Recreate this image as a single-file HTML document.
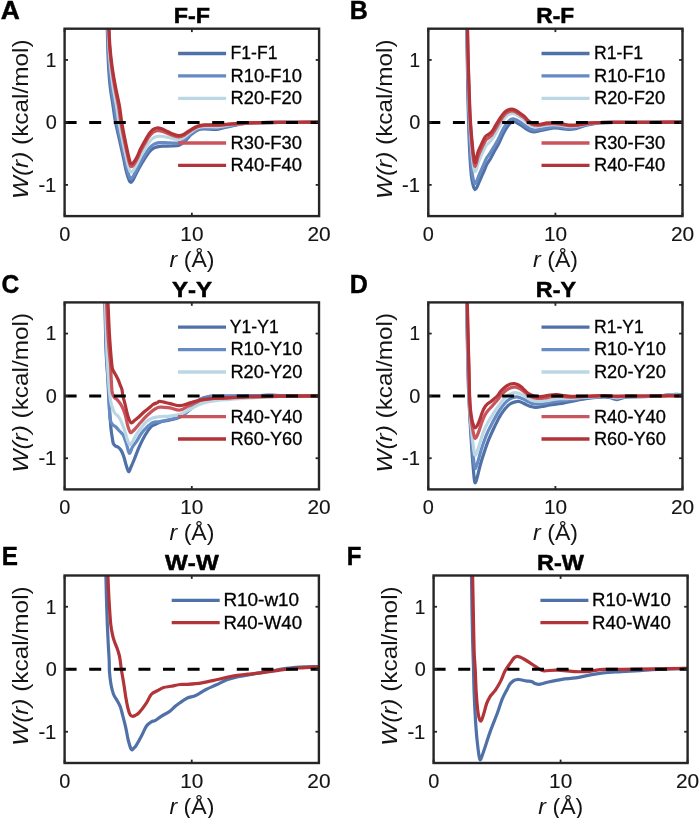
<!DOCTYPE html>
<html><head><meta charset="utf-8"><title>PMF panels</title>
<style>html,body{margin:0;padding:0;background:#fff;}body{width:700px;height:818px;position:relative;overflow:hidden;font-family:"Liberation Sans", sans-serif;}</style>
</head><body>
<svg width="700" height="818" viewBox="0 0 700 818" style="position:absolute;left:0;top:0;font-family:'Liberation Sans', sans-serif;will-change:transform;font-kerning:none">
<rect width="700" height="818" fill="#ffffff"/>
<defs>
<clipPath id="clipA"><rect x="64.60" y="28.70" width="254.50" height="187.40"/></clipPath>
<clipPath id="clipB"><rect x="428.30" y="28.70" width="254.20" height="187.40"/></clipPath>
<clipPath id="clipC"><rect x="64.60" y="302.40" width="254.40" height="187.00"/></clipPath>
<clipPath id="clipD"><rect x="428.30" y="302.40" width="254.20" height="187.00"/></clipPath>
<clipPath id="clipE"><rect x="64.60" y="575.50" width="254.30" height="187.50"/></clipPath>
<clipPath id="clipF"><rect x="433.60" y="575.50" width="254.00" height="187.50"/></clipPath>
</defs>
<path d="M107.30,28.70 C107.38,31.85 107.58,41.20 107.80,47.60 C108.02,54.00 108.20,60.58 108.60,67.10 C109.00,73.62 109.45,80.17 110.20,86.70 C110.95,93.23 112.22,100.42 113.10,106.30 C113.98,112.18 114.43,116.38 115.50,122.00 C116.57,127.62 118.17,134.00 119.50,140.00 C120.83,146.00 122.33,152.67 123.50,158.00 C124.67,163.33 125.42,168.03 126.50,172.00 C127.58,175.97 128.92,180.47 130.00,181.80 C131.08,183.13 131.83,181.63 133.00,180.00 C134.17,178.37 135.50,174.83 137.00,172.00 C138.50,169.17 140.33,165.83 142.00,163.00 C143.67,160.17 145.50,157.17 147.00,155.00 C148.50,152.83 149.67,151.25 151.00,150.00 C152.33,148.75 153.50,148.12 155.00,147.50 C156.50,146.88 158.17,146.52 160.00,146.30 C161.83,146.08 164.00,146.25 166.00,146.20 C168.00,146.15 169.90,146.12 172.00,146.00 C174.10,145.88 176.93,145.92 178.60,145.50 C180.27,145.08 180.77,144.42 182.00,143.50 C183.23,142.58 184.43,141.52 186.00,140.00 C187.57,138.48 189.43,136.07 191.40,134.40 C193.37,132.73 195.65,130.90 197.80,130.00 C199.95,129.10 201.10,129.12 204.30,129.00 C207.50,128.88 213.38,129.60 217.00,129.30 C220.62,129.00 221.67,128.13 226.00,127.20 C230.33,126.27 237.33,124.47 243.00,123.70 C248.67,122.93 253.83,122.83 260.00,122.60 C266.17,122.37 270.17,122.37 280.00,122.30 C289.83,122.23 312.50,122.22 319.00,122.20" fill="none" stroke="#5070a8" stroke-width="3.2" stroke-linejoin="round" stroke-linecap="butt" clip-path="url(#clipA)"/>
<path d="M107.64,28.70 C107.74,31.85 107.96,41.20 108.24,47.60 C108.52,54.00 108.82,60.58 109.32,67.10 C109.82,73.62 110.42,80.17 111.26,86.70 C112.10,93.23 113.47,100.42 114.38,106.30 C115.29,112.18 115.69,116.35 116.74,122.00 C117.79,127.65 119.37,134.30 120.66,140.20 C121.95,146.10 123.38,152.47 124.46,157.40 C125.54,162.33 126.20,166.34 127.16,169.80 C128.12,173.26 129.21,177.06 130.20,178.18 C131.19,179.30 131.97,178.03 133.10,176.50 C134.23,174.97 135.57,171.72 137.00,169.00 C138.43,166.28 140.12,162.98 141.70,160.20 C143.28,157.42 145.02,154.53 146.50,152.30 C147.98,150.07 149.25,148.20 150.60,146.80 C151.95,145.40 153.12,144.59 154.58,143.90 C156.04,143.21 157.60,142.85 159.34,142.64 C161.08,142.43 163.10,142.61 165.00,142.66 C166.90,142.71 168.69,142.84 170.74,142.92 C172.79,143.00 175.54,143.32 177.30,143.16 C179.06,143.00 179.95,142.65 181.32,141.94 C182.69,141.23 183.86,140.31 185.54,138.88 C187.22,137.45 189.36,134.99 191.40,133.38 C193.44,131.77 195.65,130.09 197.80,129.22 C199.95,128.35 201.10,128.30 204.30,128.16 C207.50,128.02 213.38,128.66 217.00,128.40 C220.62,128.14 221.67,127.42 226.00,126.62 C230.33,125.82 237.33,124.27 243.00,123.60 C248.67,122.93 253.83,122.82 260.00,122.60 C266.17,122.38 270.17,122.37 280.00,122.30 C289.83,122.23 312.50,122.22 319.00,122.20" fill="none" stroke="#668ac4" stroke-width="3.2" stroke-linejoin="round" stroke-linecap="butt" clip-path="url(#clipA)"/>
<path d="M108.23,28.70 C108.36,31.85 108.62,41.20 109.01,47.60 C109.40,54.00 109.90,60.58 110.58,67.10 C111.26,73.62 112.11,80.17 113.11,86.70 C114.12,93.23 115.65,100.42 116.62,106.30 C117.59,112.18 117.90,116.29 118.91,122.00 C119.92,127.71 121.48,134.83 122.69,140.55 C123.89,146.28 125.20,152.12 126.14,156.35 C127.08,160.58 127.58,163.37 128.31,165.95 C129.05,168.53 129.72,171.11 130.55,171.84 C131.38,172.58 132.20,171.72 133.28,170.38 C134.35,169.03 135.68,166.26 137.00,163.75 C138.32,161.24 139.74,158.00 141.18,155.30 C142.61,152.60 144.17,149.92 145.62,147.57 C147.08,145.22 148.53,142.86 149.90,141.20 C151.27,139.54 152.46,138.43 153.84,137.60 C155.23,136.77 156.62,136.42 158.19,136.24 C159.75,136.05 161.53,136.25 163.25,136.47 C164.97,136.68 166.57,137.10 168.53,137.53 C170.50,137.96 173.09,138.78 175.03,139.06 C176.96,139.34 178.51,139.57 180.13,139.21 C181.75,138.85 182.86,138.19 184.73,136.92 C186.61,135.65 189.22,133.11 191.40,131.59 C193.58,130.08 195.65,128.67 197.80,127.85 C199.95,127.04 201.10,126.86 204.30,126.69 C207.50,126.52 213.38,127.01 217.00,126.83 C220.62,126.64 221.67,126.17 226.00,125.61 C230.33,125.04 237.33,123.93 243.00,123.42 C248.67,122.92 253.83,122.79 260.00,122.60 C266.17,122.41 270.17,122.37 280.00,122.30 C289.83,122.23 312.50,122.22 319.00,122.20" fill="none" stroke="#bbd7e4" stroke-width="3.2" stroke-linejoin="round" stroke-linecap="butt" clip-path="url(#clipA)"/>
<path d="M108.75,28.70 C108.90,31.85 109.18,41.20 109.67,47.60 C110.16,54.00 110.82,60.58 111.66,67.10 C112.50,73.62 113.56,80.17 114.70,86.70 C115.85,93.23 117.53,100.42 118.54,106.30 C119.55,112.18 119.79,116.24 120.77,122.00 C121.75,127.76 123.29,135.28 124.43,140.85 C125.56,146.42 126.77,151.82 127.58,155.45 C128.39,159.08 128.76,160.82 129.31,162.65 C129.85,164.48 130.16,166.00 130.85,166.41 C131.54,166.83 132.40,166.32 133.43,165.12 C134.45,163.93 135.78,161.59 137.00,159.25 C138.22,156.91 139.41,153.72 140.72,151.10 C142.04,148.48 143.45,145.97 144.88,143.53 C146.30,141.08 147.91,138.29 149.30,136.40 C150.69,134.51 151.90,133.14 153.22,132.20 C154.53,131.26 155.77,130.92 157.19,130.75 C158.62,130.57 160.18,130.79 161.75,131.16 C163.32,131.52 164.76,132.18 166.64,132.91 C168.53,133.64 171.00,134.90 173.07,135.56 C175.15,136.22 177.28,136.92 179.11,136.87 C180.94,136.82 182.00,136.37 184.04,135.24 C186.09,134.11 189.11,131.49 191.40,130.06 C193.69,128.64 195.65,127.46 197.80,126.69 C199.95,125.91 201.10,125.63 204.30,125.43 C207.50,125.23 213.38,125.59 217.00,125.47 C220.62,125.36 221.67,125.10 226.00,124.73 C230.33,124.37 237.33,123.63 243.00,123.28 C248.67,122.92 253.83,122.76 260.00,122.60 C266.17,122.44 270.17,122.37 280.00,122.30 C289.83,122.23 312.50,122.22 319.00,122.20" fill="none" stroke="#c9545c" stroke-width="3.2" stroke-linejoin="round" stroke-linecap="butt" clip-path="url(#clipA)"/>
<path d="M109.00,28.70 C109.17,31.85 109.47,41.20 110.00,47.60 C110.53,54.00 111.28,60.58 112.20,67.10 C113.12,73.62 114.28,80.17 115.50,86.70 C116.72,93.23 118.47,100.42 119.50,106.30 C120.53,112.18 120.73,116.22 121.70,122.00 C122.67,127.78 124.20,135.50 125.30,141.00 C126.40,146.50 127.55,151.67 128.30,155.00 C129.05,158.33 129.35,159.55 129.80,161.00 C130.25,162.45 130.38,163.45 131.00,163.70 C131.62,163.95 132.50,163.62 133.50,162.50 C134.50,161.38 135.83,159.25 137.00,157.00 C138.17,154.75 139.25,151.58 140.50,149.00 C141.75,146.42 143.08,144.00 144.50,141.50 C145.92,139.00 147.60,136.00 149.00,134.00 C150.40,132.00 151.62,130.50 152.90,129.50 C154.18,128.50 155.35,128.17 156.70,128.00 C158.05,127.83 159.50,128.07 161.00,128.50 C162.50,128.93 163.85,129.72 165.70,130.60 C167.55,131.48 169.95,132.95 172.10,133.80 C174.25,134.65 176.67,135.60 178.60,135.70 C180.53,135.80 181.57,135.47 183.70,134.40 C185.83,133.33 189.05,130.68 191.40,129.30 C193.75,127.92 195.65,126.85 197.80,126.10 C199.95,125.35 201.10,125.02 204.30,124.80 C207.50,124.58 213.38,124.88 217.00,124.80 C220.62,124.72 221.67,124.57 226.00,124.30 C230.33,124.03 237.33,123.48 243.00,123.20 C248.67,122.92 253.83,122.75 260.00,122.60 C266.17,122.45 270.17,122.37 280.00,122.30 C289.83,122.23 312.50,122.22 319.00,122.20" fill="none" stroke="#b23438" stroke-width="3.2" stroke-linejoin="round" stroke-linecap="butt" clip-path="url(#clipA)"/>
<line x1="64.60" y1="122.40" x2="319.10" y2="122.40" stroke="#000" stroke-width="3" stroke-dasharray="12 12.6"/>
<line x1="178.10" y1="53.50" x2="226.10" y2="53.50" stroke="#5070a8" stroke-width="3.3"/>
<text transform="translate(230.61,59.30) scale(0.9446,1)" font-size="18.6" fill="#000" stroke="#000" stroke-width="0.3">F1-F1</text>
<line x1="178.10" y1="75.90" x2="226.10" y2="75.90" stroke="#668ac4" stroke-width="3.3"/>
<text transform="translate(230.55,81.70) scale(0.9858,1)" font-size="18.6" fill="#000" stroke="#000" stroke-width="0.3">R10-F10</text>
<line x1="178.10" y1="98.30" x2="226.10" y2="98.30" stroke="#bbd7e4" stroke-width="3.3"/>
<text transform="translate(230.55,104.10) scale(0.9858,1)" font-size="18.6" fill="#000" stroke="#000" stroke-width="0.3">R20-F20</text>
<line x1="178.10" y1="143.00" x2="226.10" y2="143.00" stroke="#c9545c" stroke-width="3.3"/>
<text transform="translate(230.55,148.80) scale(0.9858,1)" font-size="18.6" fill="#000" stroke="#000" stroke-width="0.3">R30-F30</text>
<line x1="178.10" y1="165.30" x2="226.10" y2="165.30" stroke="#b23438" stroke-width="3.3"/>
<text transform="translate(230.55,171.10) scale(0.9858,1)" font-size="18.6" fill="#000" stroke="#000" stroke-width="0.3">R40-F40</text>
<rect x="64.60" y="28.70" width="254.50" height="187.40" fill="none" stroke="#262626" stroke-width="2.4"/>
<line x1="64.60" y1="216.10" x2="64.60" y2="212.70" stroke="#262626" stroke-width="1.8"/>
<line x1="64.60" y1="28.70" x2="64.60" y2="32.10" stroke="#262626" stroke-width="1.8"/>
<text transform="translate(59.14,241.10) scale(1.0000,1)" font-size="19.9" fill="#141414" stroke="#141414" stroke-width="0.15">0</text>
<line x1="191.85" y1="216.10" x2="191.85" y2="212.70" stroke="#262626" stroke-width="1.8"/>
<line x1="191.85" y1="28.70" x2="191.85" y2="32.10" stroke="#262626" stroke-width="1.8"/>
<text transform="translate(180.35,241.10) scale(1.0443,1)" font-size="19.9" fill="#141414" stroke="#141414" stroke-width="0.15">10</text>
<line x1="319.10" y1="216.10" x2="319.10" y2="212.70" stroke="#262626" stroke-width="1.8"/>
<line x1="319.10" y1="28.70" x2="319.10" y2="32.10" stroke="#262626" stroke-width="1.8"/>
<text transform="translate(307.50,241.10) scale(1.0494,1)" font-size="19.9" fill="#141414" stroke="#141414" stroke-width="0.15">20</text>
<line x1="64.60" y1="184.87" x2="68.00" y2="184.87" stroke="#262626" stroke-width="1.8"/>
<line x1="319.10" y1="184.87" x2="315.70" y2="184.87" stroke="#262626" stroke-width="1.8"/>
<text transform="translate(38.39,191.67) scale(1.0157,1)" font-size="19.9" fill="#141414" stroke="#141414" stroke-width="0.15">-1</text>
<line x1="64.60" y1="122.40" x2="68.00" y2="122.40" stroke="#262626" stroke-width="1.8"/>
<line x1="319.10" y1="122.40" x2="315.70" y2="122.40" stroke="#262626" stroke-width="1.8"/>
<text transform="translate(45.67,129.20) scale(1.0000,1)" font-size="19.9" fill="#141414" stroke="#141414" stroke-width="0.15">0</text>
<line x1="64.60" y1="59.93" x2="68.00" y2="59.93" stroke="#262626" stroke-width="1.8"/>
<line x1="319.10" y1="59.93" x2="315.70" y2="59.93" stroke="#262626" stroke-width="1.8"/>
<text transform="translate(45.74,66.73) scale(0.9565,1)" font-size="19.9" fill="#141414" stroke="#141414" stroke-width="0.15">1</text>
<text transform="translate(169.55,267.10) scale(1.0617,1)" font-size="21.8" fill="#141414" stroke="#141414" stroke-width="0"><tspan font-style="italic">r</tspan> (Å)</text>
<text transform="translate(28.00,119.20) rotate(-90) translate(-79.77,0) scale(1.1167,1)" font-size="21.8" fill="#141414" ><tspan font-style="italic">W(r)</tspan> (kcal/mol)</text>
<text transform="translate(173.65,23.00) scale(1.0504,1)" font-size="22.2" font-weight="bold" fill="#000" stroke="#000" stroke-width="0.5">F-F</text>
<text transform="translate(0.77,19.00) scale(1.0,1)" font-size="26.4" font-weight="bold" fill="#000" stroke="#000" stroke-width="0.45">A</text>
<path d="M466.80,28.70 C466.88,33.92 467.10,48.12 467.30,60.00 C467.50,71.88 467.78,89.67 468.00,100.00 C468.22,110.33 468.33,113.67 468.60,122.00 C468.87,130.33 469.15,141.17 469.60,150.00 C470.05,158.83 470.68,169.00 471.30,175.00 C471.92,181.00 472.72,183.57 473.30,186.00 C473.88,188.43 474.22,189.35 474.80,189.60 C475.38,189.85 475.93,189.10 476.80,187.50 C477.67,185.90 478.80,182.75 480.00,180.00 C481.20,177.25 482.83,173.67 484.00,171.00 C485.17,168.33 485.93,166.05 487.00,164.00 C488.07,161.95 489.15,160.87 490.40,158.70 C491.65,156.53 493.15,153.45 494.50,151.00 C495.85,148.55 496.98,147.00 498.50,144.00 C500.02,141.00 502.02,136.05 503.60,133.00 C505.18,129.95 506.65,127.53 508.00,125.70 C509.35,123.87 510.70,122.70 511.70,122.00 C512.70,121.30 513.12,121.37 514.00,121.50 C514.88,121.63 515.92,122.23 517.00,122.80 C518.08,123.37 519.05,123.93 520.50,124.90 C521.95,125.87 524.12,127.58 525.70,128.60 C527.28,129.62 528.57,130.45 530.00,131.00 C531.43,131.55 532.63,131.95 534.30,131.90 C535.97,131.85 537.87,131.13 540.00,130.70 C542.13,130.27 544.72,129.77 547.10,129.30 C549.48,128.83 551.92,128.02 554.30,127.90 C556.68,127.78 559.02,128.37 561.40,128.60 C563.78,128.83 566.22,129.30 568.60,129.30 C570.98,129.30 573.47,129.07 575.70,128.60 C577.93,128.13 579.62,127.18 582.00,126.50 C584.38,125.82 587.00,125.12 590.00,124.50 C593.00,123.88 595.00,123.15 600.00,122.80 C605.00,122.45 606.25,122.50 620.00,122.40 C633.75,122.30 672.08,122.23 682.50,122.20" fill="none" stroke="#5070a8" stroke-width="3.2" stroke-linejoin="round" stroke-linecap="butt" clip-path="url(#clipB)"/>
<path d="M466.95,28.70 C467.04,33.92 467.27,48.12 467.50,60.00 C467.73,71.88 468.08,89.67 468.33,100.00 C468.58,110.33 468.69,113.72 469.02,122.00 C469.34,130.28 469.80,141.46 470.28,149.67 C470.76,157.88 471.34,166.10 471.89,171.26 C472.44,176.42 473.09,178.55 473.59,180.61 C474.09,182.67 474.38,183.50 474.89,183.64 C475.40,183.78 475.87,183.08 476.65,181.45 C477.42,179.82 478.42,176.57 479.56,173.84 C480.70,171.11 482.29,167.70 483.47,165.06 C484.65,162.42 485.55,159.94 486.63,157.99 C487.70,156.05 488.70,155.26 489.92,153.38 C491.13,151.50 492.61,148.94 493.93,146.71 C495.25,144.48 496.36,142.80 497.84,139.97 C499.32,137.15 501.23,132.63 502.79,129.77 C504.34,126.90 505.84,124.53 507.19,122.80 C508.54,121.06 509.83,120.03 510.89,119.36 C511.94,118.69 512.55,118.69 513.49,118.79 C514.44,118.90 515.45,119.42 516.56,119.98 C517.67,120.55 518.71,121.19 520.17,122.17 C521.63,123.15 523.78,124.76 525.35,125.85 C526.91,126.94 528.12,127.99 529.56,128.69 C531.00,129.39 532.25,129.97 533.99,130.07 C535.73,130.17 537.82,129.66 540.00,129.29 C542.18,128.93 544.72,128.31 547.10,127.89 C549.48,127.48 551.92,126.87 554.30,126.80 C556.68,126.73 559.02,127.24 561.40,127.50 C563.78,127.76 566.22,128.30 568.60,128.35 C570.98,128.41 573.43,128.21 575.70,127.81 C577.97,127.41 579.84,126.56 582.22,125.95 C584.60,125.34 587.04,124.68 590.00,124.15 C592.96,123.61 595.00,123.03 600.00,122.73 C605.00,122.44 606.25,122.49 620.00,122.40 C633.75,122.31 672.08,122.23 682.50,122.20" fill="none" stroke="#668ac4" stroke-width="3.2" stroke-linejoin="round" stroke-linecap="butt" clip-path="url(#clipB)"/>
<path d="M467.26,28.70 C467.37,33.92 467.61,48.12 467.89,60.00 C468.18,71.88 468.66,89.67 468.99,100.00 C469.32,110.33 469.41,113.83 469.85,122.00 C470.30,130.17 471.11,142.05 471.65,149.01 C472.18,155.97 472.66,160.31 473.08,163.78 C473.50,167.25 473.83,168.51 474.16,169.83 C474.49,171.15 474.70,171.79 475.06,171.71 C475.43,171.63 475.74,171.05 476.34,169.35 C476.94,167.65 477.67,164.22 478.68,161.52 C479.69,158.83 481.22,155.77 482.42,153.18 C483.62,150.59 484.79,147.72 485.88,145.98 C486.97,144.24 487.80,144.04 488.95,142.73 C490.10,141.42 491.52,139.93 492.78,138.13 C494.05,136.33 495.12,134.39 496.52,131.92 C497.92,129.45 499.65,125.79 501.16,123.30 C502.66,120.81 504.21,118.52 505.56,116.99 C506.91,115.45 508.10,114.68 509.26,114.08 C510.41,113.48 511.41,113.34 512.48,113.38 C513.55,113.43 514.51,113.80 515.68,114.35 C516.85,114.91 518.02,115.72 519.51,116.72 C521.00,117.72 523.12,119.12 524.64,120.35 C526.17,121.58 527.22,123.06 528.68,124.07 C530.14,125.08 531.49,126.02 533.38,126.42 C535.26,126.82 537.71,126.70 540.00,126.48 C542.29,126.25 544.72,125.39 547.10,125.08 C549.48,124.76 551.92,124.56 554.30,124.60 C556.68,124.64 559.02,124.99 561.40,125.30 C563.78,125.61 566.22,126.31 568.60,126.46 C570.98,126.62 573.36,126.49 575.70,126.22 C578.04,125.96 580.28,125.31 582.66,124.85 C585.04,124.39 587.11,123.82 590.00,123.44 C592.89,123.07 595.00,122.78 600.00,122.60 C605.00,122.43 606.25,122.47 620.00,122.40 C633.75,122.33 672.08,122.23 682.50,122.20" fill="none" stroke="#bbd7e4" stroke-width="3.2" stroke-linejoin="round" stroke-linecap="butt" clip-path="url(#clipB)"/>
<path d="M467.40,28.70 C467.51,33.92 467.76,48.12 468.07,60.00 C468.39,71.88 468.93,89.67 469.29,100.00 C469.65,110.33 469.74,113.88 470.23,122.00 C470.73,130.12 471.70,142.31 472.27,148.71 C472.83,155.11 473.26,157.68 473.62,160.38 C473.98,163.08 474.16,163.94 474.42,164.93 C474.67,165.92 474.85,166.47 475.14,166.29 C475.44,166.11 475.68,165.58 476.20,163.85 C476.72,162.12 477.32,158.60 478.28,155.92 C479.24,153.24 480.73,150.35 481.94,147.78 C483.15,145.21 484.44,142.17 485.54,140.52 C486.63,138.87 487.39,138.94 488.51,137.89 C489.63,136.84 491.03,135.83 492.26,134.23 C493.50,132.63 494.56,130.57 495.92,128.26 C497.28,125.95 498.94,122.68 500.42,120.36 C501.90,118.04 503.47,115.79 504.82,114.35 C506.17,112.90 507.32,112.25 508.52,111.68 C509.72,111.11 510.89,110.90 512.02,110.92 C513.15,110.94 514.08,111.24 515.28,111.79 C516.48,112.34 517.70,113.23 519.21,114.24 C520.72,115.25 522.81,116.56 524.32,117.85 C525.84,119.14 526.82,120.82 528.28,121.97 C529.74,123.12 531.14,124.22 533.10,124.76 C535.05,125.30 537.67,125.36 540.00,125.20 C542.33,125.03 544.72,124.06 547.10,123.80 C549.48,123.53 551.92,123.52 554.30,123.60 C556.68,123.68 559.02,123.97 561.40,124.30 C563.78,124.63 566.22,125.40 568.60,125.60 C570.98,125.80 573.32,125.71 575.70,125.50 C578.08,125.30 580.48,124.75 582.86,124.35 C585.24,123.95 587.14,123.43 590.00,123.12 C592.86,122.82 595.00,122.66 600.00,122.54 C605.00,122.42 606.25,122.46 620.00,122.40 C633.75,122.34 672.08,122.23 682.50,122.20" fill="none" stroke="#c9545c" stroke-width="3.2" stroke-linejoin="round" stroke-linecap="butt" clip-path="url(#clipB)"/>
<path d="M467.50,28.70 C467.62,33.92 467.87,48.12 468.20,60.00 C468.53,71.88 469.12,89.67 469.50,100.00 C469.88,110.33 469.97,113.92 470.50,122.00 C471.03,130.08 472.12,142.50 472.70,148.50 C473.28,154.50 473.68,155.83 474.00,158.00 C474.32,160.17 474.40,160.75 474.60,161.50 C474.80,162.25 474.95,162.75 475.20,162.50 C475.45,162.25 475.63,161.75 476.10,160.00 C476.57,158.25 477.08,154.67 478.00,152.00 C478.92,149.33 480.38,146.55 481.60,144.00 C482.82,141.45 484.20,138.28 485.30,136.70 C486.40,135.12 487.10,135.37 488.20,134.50 C489.30,133.63 490.68,132.97 491.90,131.50 C493.12,130.03 494.17,127.90 495.50,125.70 C496.83,123.50 498.43,120.50 499.90,118.30 C501.37,116.10 502.95,113.88 504.30,112.50 C505.65,111.12 506.77,110.55 508.00,110.00 C509.23,109.45 510.53,109.20 511.70,109.20 C512.87,109.20 513.78,109.45 515.00,110.00 C516.22,110.55 517.48,111.48 519.00,112.50 C520.52,113.52 522.60,114.77 524.10,116.10 C525.60,117.43 526.53,119.25 528.00,120.50 C529.47,121.75 530.90,122.97 532.90,123.60 C534.90,124.23 537.63,124.42 540.00,124.30 C542.37,124.18 544.72,123.13 547.10,122.90 C549.48,122.67 551.92,122.78 554.30,122.90 C556.68,123.02 559.02,123.25 561.40,123.60 C563.78,123.95 566.22,124.77 568.60,125.00 C570.98,125.23 573.30,125.17 575.70,125.00 C578.10,124.83 580.62,124.35 583.00,124.00 C585.38,123.65 587.17,123.15 590.00,122.90 C592.83,122.65 595.00,122.58 600.00,122.50 C605.00,122.42 606.25,122.45 620.00,122.40 C633.75,122.35 672.08,122.23 682.50,122.20" fill="none" stroke="#b23438" stroke-width="3.2" stroke-linejoin="round" stroke-linecap="butt" clip-path="url(#clipB)"/>
<line x1="428.30" y1="122.40" x2="682.50" y2="122.40" stroke="#000" stroke-width="3" stroke-dasharray="12 12.6"/>
<line x1="541.50" y1="53.50" x2="589.50" y2="53.50" stroke="#5070a8" stroke-width="3.3"/>
<text transform="translate(594.00,59.30) scale(0.9494,1)" font-size="18.6" fill="#000" stroke="#000" stroke-width="0.3">R1-F1</text>
<line x1="541.50" y1="75.90" x2="589.50" y2="75.90" stroke="#668ac4" stroke-width="3.3"/>
<text transform="translate(593.95,81.70) scale(0.9858,1)" font-size="18.6" fill="#000" stroke="#000" stroke-width="0.3">R10-F10</text>
<line x1="541.50" y1="98.30" x2="589.50" y2="98.30" stroke="#bbd7e4" stroke-width="3.3"/>
<text transform="translate(593.95,104.10) scale(0.9858,1)" font-size="18.6" fill="#000" stroke="#000" stroke-width="0.3">R20-F20</text>
<line x1="541.50" y1="143.00" x2="589.50" y2="143.00" stroke="#c9545c" stroke-width="3.3"/>
<text transform="translate(593.95,148.80) scale(0.9858,1)" font-size="18.6" fill="#000" stroke="#000" stroke-width="0.3">R30-F30</text>
<line x1="541.50" y1="165.30" x2="589.50" y2="165.30" stroke="#b23438" stroke-width="3.3"/>
<text transform="translate(593.95,171.10) scale(0.9858,1)" font-size="18.6" fill="#000" stroke="#000" stroke-width="0.3">R40-F40</text>
<rect x="428.30" y="28.70" width="254.20" height="187.40" fill="none" stroke="#262626" stroke-width="2.4"/>
<line x1="428.30" y1="216.10" x2="428.30" y2="212.70" stroke="#262626" stroke-width="1.8"/>
<line x1="428.30" y1="28.70" x2="428.30" y2="32.10" stroke="#262626" stroke-width="1.8"/>
<text transform="translate(422.84,241.10) scale(1.0000,1)" font-size="19.9" fill="#141414" stroke="#141414" stroke-width="0.15">0</text>
<line x1="555.40" y1="216.10" x2="555.40" y2="212.70" stroke="#262626" stroke-width="1.8"/>
<line x1="555.40" y1="28.70" x2="555.40" y2="32.10" stroke="#262626" stroke-width="1.8"/>
<text transform="translate(543.90,241.10) scale(1.0443,1)" font-size="19.9" fill="#141414" stroke="#141414" stroke-width="0.15">10</text>
<line x1="682.50" y1="216.10" x2="682.50" y2="212.70" stroke="#262626" stroke-width="1.8"/>
<line x1="682.50" y1="28.70" x2="682.50" y2="32.10" stroke="#262626" stroke-width="1.8"/>
<text transform="translate(670.90,241.10) scale(1.0494,1)" font-size="19.9" fill="#141414" stroke="#141414" stroke-width="0.15">20</text>
<line x1="428.30" y1="184.87" x2="431.70" y2="184.87" stroke="#262626" stroke-width="1.8"/>
<line x1="682.50" y1="184.87" x2="679.10" y2="184.87" stroke="#262626" stroke-width="1.8"/>
<text transform="translate(402.09,191.67) scale(1.0157,1)" font-size="19.9" fill="#141414" stroke="#141414" stroke-width="0.15">-1</text>
<line x1="428.30" y1="122.40" x2="431.70" y2="122.40" stroke="#262626" stroke-width="1.8"/>
<line x1="682.50" y1="122.40" x2="679.10" y2="122.40" stroke="#262626" stroke-width="1.8"/>
<text transform="translate(409.37,129.20) scale(1.0000,1)" font-size="19.9" fill="#141414" stroke="#141414" stroke-width="0.15">0</text>
<line x1="428.30" y1="59.93" x2="431.70" y2="59.93" stroke="#262626" stroke-width="1.8"/>
<line x1="682.50" y1="59.93" x2="679.10" y2="59.93" stroke="#262626" stroke-width="1.8"/>
<text transform="translate(409.44,66.73) scale(0.9565,1)" font-size="19.9" fill="#141414" stroke="#141414" stroke-width="0.15">1</text>
<text transform="translate(533.10,267.10) scale(1.0617,1)" font-size="21.8" fill="#141414" stroke="#141414" stroke-width="0"><tspan font-style="italic">r</tspan> (Å)</text>
<text transform="translate(391.70,119.20) rotate(-90) translate(-79.77,0) scale(1.1167,1)" font-size="21.8" fill="#141414" ><tspan font-style="italic">W(r)</tspan> (kcal/mol)</text>
<text transform="translate(536.32,23.00) scale(1.0252,1)" font-size="22.2" font-weight="bold" fill="#000" stroke="#000" stroke-width="0.5">R-F</text>
<text transform="translate(349.64,19.00) scale(0.95,1)" font-size="26.4" font-weight="bold" fill="#000" stroke="#000" stroke-width="0.45">B</text>
<path d="M104.90,302.40 C105.10,310.48 105.60,337.97 106.10,350.90 C106.60,363.83 107.48,372.65 107.90,380.00 C108.32,387.35 108.33,390.00 108.60,395.00 C108.87,400.00 109.22,405.83 109.50,410.00 C109.78,414.17 110.05,416.85 110.30,420.00 C110.55,423.15 110.67,425.90 111.00,428.90 C111.33,431.90 111.90,435.55 112.30,438.00 C112.70,440.45 112.87,442.27 113.40,443.60 C113.93,444.93 114.68,445.40 115.50,446.00 C116.32,446.60 117.47,446.62 118.30,447.20 C119.13,447.78 119.78,448.48 120.50,449.50 C121.22,450.52 121.93,451.72 122.60,453.30 C123.27,454.88 123.88,456.95 124.50,459.00 C125.12,461.05 125.60,463.48 126.30,465.60 C127.00,467.72 127.92,471.47 128.70,471.70 C129.48,471.93 130.08,469.03 131.00,467.00 C131.92,464.97 132.85,462.80 134.20,459.50 C135.55,456.20 137.27,451.28 139.10,447.20 C140.93,443.12 143.17,438.45 145.20,435.00 C147.23,431.55 149.67,428.25 151.30,426.50 C152.93,424.75 153.55,425.23 155.00,424.50 C156.45,423.77 157.50,422.85 160.00,422.10 C162.50,421.35 166.67,420.83 170.00,420.00 C173.33,419.17 176.67,418.88 180.00,417.10 C183.33,415.32 186.67,412.27 190.00,409.30 C193.33,406.33 196.67,401.45 200.00,399.30 C203.33,397.15 206.67,396.92 210.00,396.40 C213.33,395.88 211.67,396.35 220.00,396.20 C228.33,396.05 251.67,395.70 260.00,395.50 C268.33,395.30 266.67,395.00 270.00,395.00 C273.33,395.00 271.83,395.35 280.00,395.50 C288.17,395.65 312.50,395.83 319.00,395.90" fill="none" stroke="#5070a8" stroke-width="3.2" stroke-linejoin="round" stroke-linecap="butt" clip-path="url(#clipC)"/>
<path d="M105.20,302.40 C105.40,310.48 105.90,337.97 106.40,350.90 C106.90,363.83 107.78,372.65 108.20,380.00 C108.62,387.35 108.67,389.67 108.90,395.00 C109.13,400.33 109.37,407.83 109.60,412.00 C109.83,416.17 109.82,417.92 110.30,420.00 C110.78,422.08 111.57,423.33 112.50,424.50 C113.43,425.67 114.73,425.92 115.90,427.00 C117.07,428.08 118.28,429.67 119.50,431.00 C120.72,432.33 122.03,432.83 123.20,435.00 C124.37,437.17 125.48,440.95 126.50,444.00 C127.52,447.05 128.30,452.80 129.30,453.30 C130.30,453.80 131.27,449.03 132.50,447.00 C133.73,444.97 135.28,443.27 136.70,441.10 C138.12,438.93 139.58,436.03 141.00,434.00 C142.42,431.97 143.27,430.77 145.20,428.90 C147.13,427.03 150.15,424.02 152.60,422.80 C155.05,421.58 157.00,422.15 159.90,421.60 C162.80,421.05 166.65,420.35 170.00,419.50 C173.35,418.65 176.67,418.17 180.00,416.50 C183.33,414.83 186.67,412.25 190.00,409.50 C193.33,406.75 196.67,402.12 200.00,400.00 C203.33,397.88 206.67,397.40 210.00,396.80 C213.33,396.20 201.83,396.55 220.00,396.40 C238.17,396.25 302.50,395.98 319.00,395.90" fill="none" stroke="#668ac4" stroke-width="3.2" stroke-linejoin="round" stroke-linecap="butt" clip-path="url(#clipC)"/>
<path d="M105.50,302.40 C105.73,310.48 106.38,337.97 106.90,350.90 C107.42,363.83 108.12,372.65 108.60,380.00 C109.08,387.35 109.32,390.83 109.80,395.00 C110.28,399.17 110.68,402.00 111.50,405.00 C112.32,408.00 113.62,411.17 114.70,413.00 C115.78,414.83 116.95,414.67 118.00,416.00 C119.05,417.33 119.92,418.67 121.00,421.00 C122.08,423.33 123.42,426.83 124.50,430.00 C125.58,433.17 126.58,437.53 127.50,440.00 C128.42,442.47 129.08,444.63 130.00,444.80 C130.92,444.97 132.00,442.63 133.00,441.00 C134.00,439.37 134.78,437.02 136.00,435.00 C137.22,432.98 138.63,431.07 140.30,428.90 C141.97,426.73 143.95,423.83 146.00,422.00 C148.05,420.17 150.27,418.78 152.60,417.90 C154.93,417.02 157.10,417.00 160.00,416.70 C162.90,416.40 166.67,416.50 170.00,416.10 C173.33,415.70 176.67,415.43 180.00,414.30 C183.33,413.17 186.67,410.97 190.00,409.30 C193.33,407.63 196.67,405.62 200.00,404.30 C203.33,402.98 206.67,402.12 210.00,401.40 C213.33,400.68 216.67,400.35 220.00,400.00 C223.33,399.65 225.00,399.65 230.00,399.30 C235.00,398.95 241.67,398.37 250.00,397.90 C258.33,397.43 268.50,396.83 280.00,396.50 C291.50,396.17 312.50,396.00 319.00,395.90" fill="none" stroke="#bbd7e4" stroke-width="3.2" stroke-linejoin="round" stroke-linecap="butt" clip-path="url(#clipC)"/>
<path d="M106.60,302.40 C106.88,308.67 107.67,329.90 108.30,340.00 C108.93,350.10 109.90,356.33 110.40,363.00 C110.90,369.67 111.00,375.13 111.30,380.00 C111.60,384.87 111.75,389.37 112.20,392.20 C112.65,395.03 113.18,395.77 114.00,397.00 C114.82,398.23 115.97,398.37 117.10,399.60 C118.23,400.83 119.68,402.57 120.80,404.40 C121.92,406.23 122.98,408.55 123.80,410.60 C124.62,412.65 125.03,414.13 125.70,416.70 C126.37,419.27 126.98,423.35 127.80,426.00 C128.62,428.65 129.57,431.93 130.60,432.60 C131.63,433.27 132.38,431.63 134.00,430.00 C135.62,428.37 138.38,424.97 140.30,422.80 C142.22,420.63 143.67,418.83 145.50,417.00 C147.33,415.17 149.72,413.13 151.30,411.80 C152.88,410.47 153.55,409.78 155.00,409.00 C156.45,408.22 157.50,407.28 160.00,407.10 C162.50,406.92 166.67,407.42 170.00,407.90 C173.33,408.38 176.67,410.48 180.00,410.00 C183.33,409.52 186.67,406.55 190.00,405.00 C193.33,403.45 196.67,401.73 200.00,400.70 C203.33,399.67 206.67,399.20 210.00,398.80 C213.33,398.40 213.33,398.60 220.00,398.30 C226.67,398.00 240.00,397.33 250.00,397.00 C260.00,396.67 268.50,396.48 280.00,396.30 C291.50,396.12 312.50,395.97 319.00,395.90" fill="none" stroke="#c9545c" stroke-width="3.2" stroke-linejoin="round" stroke-linecap="butt" clip-path="url(#clipC)"/>
<path d="M108.00,302.40 C108.20,307.00 108.77,321.92 109.20,330.00 C109.63,338.08 110.20,345.57 110.60,350.90 C111.00,356.23 111.27,358.95 111.60,362.00 C111.93,365.05 111.88,366.98 112.60,369.20 C113.32,371.42 114.95,373.50 115.90,375.30 C116.85,377.10 117.58,378.37 118.30,380.00 C119.02,381.63 119.58,383.47 120.20,385.10 C120.82,386.73 121.55,387.97 122.00,389.80 C122.45,391.63 122.38,393.67 122.90,396.10 C123.42,398.53 124.23,400.97 125.10,404.40 C125.97,407.83 127.08,413.63 128.10,416.70 C129.12,419.77 130.13,422.17 131.20,422.80 C132.27,423.43 133.18,421.52 134.50,420.50 C135.82,419.48 137.52,418.12 139.10,416.70 C140.68,415.28 142.37,413.43 144.00,412.00 C145.63,410.57 147.40,409.35 148.90,408.10 C150.40,406.85 151.57,405.42 153.00,404.50 C154.43,403.58 156.33,403.12 157.50,402.60 C158.67,402.08 157.92,401.23 160.00,401.40 C162.08,401.57 166.67,402.88 170.00,403.60 C173.33,404.32 176.67,405.82 180.00,405.70 C183.33,405.58 186.67,403.85 190.00,402.90 C193.33,401.95 196.67,400.72 200.00,400.00 C203.33,399.28 206.67,398.92 210.00,398.60 C213.33,398.28 216.67,398.27 220.00,398.10 C223.33,397.93 226.67,397.77 230.00,397.60 C233.33,397.43 236.67,397.25 240.00,397.10 C243.33,396.95 243.33,396.85 250.00,396.70 C256.67,396.55 268.50,396.33 280.00,396.20 C291.50,396.07 312.50,395.95 319.00,395.90" fill="none" stroke="#b23438" stroke-width="3.2" stroke-linejoin="round" stroke-linecap="butt" clip-path="url(#clipC)"/>
<line x1="64.60" y1="395.90" x2="319.00" y2="395.90" stroke="#000" stroke-width="3" stroke-dasharray="12 12.6"/>
<line x1="178.00" y1="327.20" x2="226.00" y2="327.20" stroke="#5070a8" stroke-width="3.3"/>
<text transform="translate(229.83,333.00) scale(0.9454,1)" font-size="18.6" fill="#000" stroke="#000" stroke-width="0.3">Y1-Y1</text>
<line x1="178.00" y1="349.60" x2="226.00" y2="349.60" stroke="#668ac4" stroke-width="3.3"/>
<text transform="translate(230.45,355.40) scale(0.9807,1)" font-size="18.6" fill="#000" stroke="#000" stroke-width="0.3">R10-Y10</text>
<line x1="178.00" y1="372.00" x2="226.00" y2="372.00" stroke="#bbd7e4" stroke-width="3.3"/>
<text transform="translate(230.45,377.80) scale(0.9807,1)" font-size="18.6" fill="#000" stroke="#000" stroke-width="0.3">R20-Y20</text>
<line x1="178.00" y1="416.70" x2="226.00" y2="416.70" stroke="#c9545c" stroke-width="3.3"/>
<text transform="translate(230.45,422.50) scale(0.9807,1)" font-size="18.6" fill="#000" stroke="#000" stroke-width="0.3">R40-Y40</text>
<line x1="178.00" y1="439.00" x2="226.00" y2="439.00" stroke="#b23438" stroke-width="3.3"/>
<text transform="translate(230.45,444.80) scale(0.9807,1)" font-size="18.6" fill="#000" stroke="#000" stroke-width="0.3">R60-Y60</text>
<rect x="64.60" y="302.40" width="254.40" height="187.00" fill="none" stroke="#262626" stroke-width="2.4"/>
<line x1="64.60" y1="489.40" x2="64.60" y2="486.00" stroke="#262626" stroke-width="1.8"/>
<line x1="64.60" y1="302.40" x2="64.60" y2="305.80" stroke="#262626" stroke-width="1.8"/>
<text transform="translate(59.14,514.40) scale(1.0000,1)" font-size="19.9" fill="#141414" stroke="#141414" stroke-width="0.15">0</text>
<line x1="191.80" y1="489.40" x2="191.80" y2="486.00" stroke="#262626" stroke-width="1.8"/>
<line x1="191.80" y1="302.40" x2="191.80" y2="305.80" stroke="#262626" stroke-width="1.8"/>
<text transform="translate(180.30,514.40) scale(1.0443,1)" font-size="19.9" fill="#141414" stroke="#141414" stroke-width="0.15">10</text>
<line x1="319.00" y1="489.40" x2="319.00" y2="486.00" stroke="#262626" stroke-width="1.8"/>
<line x1="319.00" y1="302.40" x2="319.00" y2="305.80" stroke="#262626" stroke-width="1.8"/>
<text transform="translate(307.40,514.40) scale(1.0494,1)" font-size="19.9" fill="#141414" stroke="#141414" stroke-width="0.15">20</text>
<line x1="64.60" y1="458.23" x2="68.00" y2="458.23" stroke="#262626" stroke-width="1.8"/>
<line x1="319.00" y1="458.23" x2="315.60" y2="458.23" stroke="#262626" stroke-width="1.8"/>
<text transform="translate(38.39,465.03) scale(1.0157,1)" font-size="19.9" fill="#141414" stroke="#141414" stroke-width="0.15">-1</text>
<line x1="64.60" y1="395.90" x2="68.00" y2="395.90" stroke="#262626" stroke-width="1.8"/>
<line x1="319.00" y1="395.90" x2="315.60" y2="395.90" stroke="#262626" stroke-width="1.8"/>
<text transform="translate(45.67,402.70) scale(1.0000,1)" font-size="19.9" fill="#141414" stroke="#141414" stroke-width="0.15">0</text>
<line x1="64.60" y1="333.57" x2="68.00" y2="333.57" stroke="#262626" stroke-width="1.8"/>
<line x1="319.00" y1="333.57" x2="315.60" y2="333.57" stroke="#262626" stroke-width="1.8"/>
<text transform="translate(45.74,340.37) scale(0.9565,1)" font-size="19.9" fill="#141414" stroke="#141414" stroke-width="0.15">1</text>
<text transform="translate(169.50,540.40) scale(1.0617,1)" font-size="21.8" fill="#141414" stroke="#141414" stroke-width="0"><tspan font-style="italic">r</tspan> (Å)</text>
<text transform="translate(28.00,392.70) rotate(-90) translate(-79.77,0) scale(1.1167,1)" font-size="21.8" fill="#141414" ><tspan font-style="italic">W(r)</tspan> (kcal/mol)</text>
<text transform="translate(171.90,296.70) scale(1.0825,1)" font-size="22.2" font-weight="bold" fill="#000" stroke="#000" stroke-width="0.5">Y-Y</text>
<text transform="translate(1.55,293.00) scale(0.93,1)" font-size="26.4" font-weight="bold" fill="#000" stroke="#000" stroke-width="0.45">C</text>
<path d="M466.60,302.40 C466.72,308.67 467.03,327.07 467.30,340.00 C467.57,352.93 467.92,370.00 468.20,380.00 C468.48,390.00 468.70,393.33 469.00,400.00 C469.30,406.67 469.58,412.50 470.00,420.00 C470.42,427.50 471.00,437.50 471.50,445.00 C472.00,452.50 472.45,458.78 473.00,465.00 C473.55,471.22 474.13,480.13 474.80,482.30 C475.47,484.47 476.30,480.05 477.00,478.00 C477.70,475.95 478.25,472.87 479.00,470.00 C479.75,467.13 480.50,464.13 481.50,460.80 C482.50,457.47 483.87,453.37 485.00,450.00 C486.13,446.63 486.97,443.93 488.30,440.60 C489.63,437.27 491.43,433.37 493.00,430.00 C494.57,426.63 496.37,423.02 497.70,420.40 C499.03,417.78 499.65,416.37 501.00,414.30 C502.35,412.23 504.30,409.72 505.80,408.00 C507.30,406.28 508.58,404.98 510.00,404.00 C511.42,403.02 512.87,402.53 514.30,402.10 C515.73,401.67 517.15,401.25 518.60,401.40 C520.05,401.55 521.77,402.48 523.00,403.00 C524.23,403.52 525.07,404.05 526.00,404.50 C526.93,404.95 527.60,405.32 528.60,405.70 C529.60,406.08 530.82,406.52 532.00,406.80 C533.18,407.08 533.88,407.47 535.70,407.40 C537.52,407.33 540.52,406.80 542.90,406.40 C545.28,406.00 547.63,405.40 550.00,405.00 C552.37,404.60 554.72,404.35 557.10,404.00 C559.48,403.65 561.92,403.33 564.30,402.90 C566.68,402.47 569.02,401.88 571.40,401.40 C573.78,400.92 576.22,400.47 578.60,400.00 C580.98,399.53 582.13,399.08 585.70,398.60 C589.27,398.12 596.28,397.33 600.00,397.10 C603.72,396.87 605.83,396.95 608.00,397.20 C610.17,397.45 611.50,398.20 613.00,398.60 C614.50,399.00 615.67,399.63 617.00,399.60 C618.33,399.57 619.17,398.83 621.00,398.40 C622.83,397.97 624.00,397.30 628.00,397.00 C632.00,396.70 639.67,396.77 645.00,396.60 C650.33,396.43 656.17,396.30 660.00,396.00 C663.83,395.70 665.33,395.08 668.00,394.80 C670.67,394.52 673.58,394.30 676.00,394.30 C678.42,394.30 681.42,394.72 682.50,394.80" fill="none" stroke="#5070a8" stroke-width="3.2" stroke-linejoin="round" stroke-linecap="butt" clip-path="url(#clipD)"/>
<path d="M466.78,302.40 C466.91,308.67 467.26,327.50 467.53,340.00 C467.81,352.50 468.14,367.57 468.41,377.40 C468.68,387.23 468.87,392.29 469.16,398.96 C469.44,405.63 469.72,410.81 470.13,417.40 C470.54,423.99 471.13,432.30 471.63,438.50 C472.13,444.70 472.58,449.66 473.10,454.60 C473.63,459.54 474.15,466.48 474.80,468.13 C475.45,469.78 476.28,466.32 477.00,464.48 C477.72,462.64 478.36,459.79 479.13,457.10 C479.90,454.42 480.66,451.42 481.63,448.37 C482.60,445.32 483.88,441.70 484.97,438.79 C486.07,435.89 486.97,433.65 488.22,430.95 C489.47,428.25 491.06,425.28 492.48,422.59 C493.90,419.90 495.46,417.03 496.74,414.84 C498.01,412.64 498.86,411.27 500.14,409.41 C501.42,407.56 503.06,405.28 504.42,403.71 C505.78,402.14 506.98,400.95 508.31,399.97 C509.64,398.99 511.06,398.35 512.43,397.84 C513.79,397.32 515.11,396.86 516.49,396.88 C517.88,396.90 519.50,397.54 520.74,397.96 C521.98,398.37 522.92,398.89 523.92,399.38 C524.92,399.86 525.68,400.33 526.73,400.86 C527.77,401.39 528.99,402.07 530.18,402.56 C531.37,403.05 532.05,403.61 533.85,403.81 C535.66,404.02 538.64,403.97 541.03,403.80 C543.41,403.63 545.78,403.12 548.15,402.76 C550.52,402.41 552.88,402.00 555.25,401.66 C557.63,401.32 560.04,401.03 562.43,400.74 C564.81,400.45 567.17,400.20 569.55,399.92 C571.94,399.64 574.34,399.38 576.73,399.06 C579.11,398.75 579.98,398.42 583.85,398.03 C587.73,397.64 595.98,396.91 600.00,396.71 C604.02,396.51 605.83,396.63 608.00,396.84 C610.17,397.04 611.50,397.62 613.00,397.92 C614.50,398.23 615.67,398.71 617.00,398.69 C618.33,398.67 619.17,398.10 621.00,397.78 C622.83,397.45 624.00,396.96 628.00,396.74 C632.00,396.52 639.67,396.57 645.00,396.44 C650.33,396.32 656.17,396.20 660.00,395.97 C663.83,395.75 665.33,395.30 668.00,395.09 C670.67,394.88 673.58,394.72 676.00,394.72 C678.42,394.72 681.42,395.02 682.50,395.09" fill="none" stroke="#668ac4" stroke-width="3.2" stroke-linejoin="round" stroke-linecap="butt" clip-path="url(#clipD)"/>
<path d="M466.95,302.40 C467.08,308.67 467.48,327.90 467.75,340.00 C468.02,352.10 468.34,365.33 468.60,375.00 C468.86,384.67 469.03,391.33 469.30,398.00 C469.57,404.67 469.84,409.25 470.25,415.00 C470.66,420.75 471.26,427.50 471.75,432.50 C472.24,437.50 472.69,441.24 473.20,445.00 C473.71,448.76 474.17,453.88 474.80,455.05 C475.43,456.22 476.26,453.64 477.00,452.00 C477.74,450.36 478.46,447.72 479.25,445.20 C480.04,442.68 480.80,439.69 481.75,436.90 C482.70,434.11 483.88,430.92 484.95,428.45 C486.02,425.98 486.97,424.17 488.15,422.05 C489.32,419.93 490.72,417.81 492.00,415.75 C493.28,413.69 494.62,411.51 495.85,409.70 C497.08,407.89 498.13,406.56 499.35,404.90 C500.57,403.24 501.92,401.19 503.15,399.75 C504.38,398.31 505.49,397.23 506.75,396.25 C508.01,395.27 509.40,394.49 510.70,393.90 C512.00,393.31 513.22,392.80 514.55,392.70 C515.88,392.60 517.41,392.98 518.65,393.30 C519.89,393.62 520.94,394.13 522.00,394.65 C523.06,395.17 523.92,395.73 525.00,396.40 C526.08,397.07 527.31,397.97 528.50,398.65 C529.69,399.33 530.35,400.04 532.15,400.50 C533.95,400.96 536.92,401.37 539.30,401.40 C541.68,401.43 544.08,401.02 546.45,400.70 C548.83,400.38 551.17,399.82 553.55,399.50 C555.92,399.18 558.32,398.91 560.70,398.75 C563.08,398.59 565.47,398.64 567.85,398.55 C570.23,398.46 572.62,398.38 575.00,398.20 C577.38,398.02 577.98,397.81 582.15,397.50 C586.32,397.19 595.69,396.52 600.00,396.35 C604.31,396.18 605.83,396.34 608.00,396.50 C610.17,396.66 611.50,397.07 613.00,397.30 C614.50,397.53 615.67,397.87 617.00,397.85 C618.33,397.83 619.17,397.43 621.00,397.20 C622.83,396.97 624.00,396.65 628.00,396.50 C632.00,396.35 639.67,396.39 645.00,396.30 C650.33,396.21 656.17,396.11 660.00,395.95 C663.83,395.79 665.33,395.49 668.00,395.35 C670.67,395.21 673.58,395.10 676.00,395.10 C678.42,395.10 681.42,395.31 682.50,395.35" fill="none" stroke="#bbd7e4" stroke-width="3.2" stroke-linejoin="round" stroke-linecap="butt" clip-path="url(#clipD)"/>
<path d="M467.17,302.40 C467.31,308.67 467.75,328.42 468.03,340.00 C468.31,351.58 468.61,362.44 468.85,371.90 C469.09,381.36 469.23,390.09 469.49,396.76 C469.75,403.43 470.00,407.23 470.40,411.90 C470.81,416.56 471.42,421.30 471.90,424.75 C472.39,428.20 472.84,430.37 473.32,432.60 C473.81,434.83 474.19,437.61 474.80,438.16 C475.41,438.70 476.23,437.27 477.00,435.88 C477.77,434.49 478.59,432.12 479.40,429.82 C480.22,427.52 480.99,424.54 481.90,422.08 C482.82,419.63 483.89,417.01 484.92,415.09 C485.94,413.17 486.98,411.91 488.06,410.55 C489.13,409.19 490.27,408.16 491.38,406.92 C492.49,405.67 493.55,404.37 494.70,403.07 C495.86,401.76 497.19,400.48 498.33,399.07 C499.46,397.67 500.44,395.91 501.51,394.63 C502.57,393.36 503.57,392.41 504.74,391.44 C505.90,390.48 507.25,389.51 508.47,388.82 C509.69,388.13 510.79,387.56 512.04,387.31 C513.29,387.05 514.71,387.08 515.95,387.29 C517.20,387.49 518.38,387.99 519.52,388.54 C520.66,389.10 521.63,389.79 522.77,390.63 C523.90,391.48 525.13,392.67 526.33,393.60 C527.53,394.53 528.16,395.44 529.95,396.22 C531.74,397.01 534.68,398.00 537.07,398.30 C539.45,398.60 541.87,398.30 544.25,398.03 C546.63,397.77 548.98,397.02 551.35,396.71 C553.72,396.40 556.08,396.16 558.47,396.18 C560.85,396.19 563.27,396.63 565.65,396.78 C568.03,396.93 570.38,397.08 572.77,397.08 C575.15,397.09 575.41,397.02 579.95,396.82 C584.49,396.62 595.32,396.01 600.00,395.89 C604.68,395.76 605.83,395.96 608.00,396.07 C610.17,396.17 611.50,396.38 613.00,396.49 C614.50,396.61 615.67,396.77 617.00,396.77 C618.33,396.76 619.17,396.55 621.00,396.46 C622.83,396.36 624.00,396.25 628.00,396.19 C632.00,396.13 639.67,396.16 645.00,396.11 C650.33,396.07 656.17,395.99 660.00,395.92 C663.83,395.85 665.33,395.74 668.00,395.69 C670.67,395.64 673.58,395.60 676.00,395.60 C678.42,395.60 681.42,395.68 682.50,395.69" fill="none" stroke="#c9545c" stroke-width="3.2" stroke-linejoin="round" stroke-linecap="butt" clip-path="url(#clipD)"/>
<path d="M467.30,302.40 C467.45,308.67 467.92,328.73 468.20,340.00 C468.48,351.27 468.77,360.67 469.00,370.00 C469.23,379.33 469.35,389.33 469.60,396.00 C469.85,402.67 470.10,406.00 470.50,410.00 C470.90,414.00 471.52,417.50 472.00,420.00 C472.48,422.50 472.93,423.70 473.40,425.00 C473.87,426.30 474.20,427.63 474.80,427.80 C475.40,427.97 476.22,427.23 477.00,426.00 C477.78,424.77 478.67,422.57 479.50,420.40 C480.33,418.23 481.10,415.25 482.00,413.00 C482.90,410.75 483.90,408.48 484.90,406.90 C485.90,405.32 486.98,404.40 488.00,403.50 C489.02,402.60 490.00,402.25 491.00,401.50 C492.00,400.75 492.88,400.00 494.00,399.00 C495.12,398.00 496.62,396.75 497.70,395.50 C498.78,394.25 499.53,392.67 500.50,391.50 C501.47,390.33 502.40,389.47 503.50,388.50 C504.60,387.53 505.93,386.45 507.10,385.70 C508.27,384.95 509.30,384.35 510.50,384.00 C511.70,383.65 513.05,383.47 514.30,383.60 C515.55,383.73 516.82,384.22 518.00,384.80 C519.18,385.38 520.23,386.15 521.40,387.10 C522.57,388.05 523.80,389.42 525.00,390.50 C526.20,391.58 526.82,392.62 528.60,393.60 C530.38,394.58 533.32,395.93 535.70,396.40 C538.08,396.87 540.52,396.63 542.90,396.40 C545.28,396.17 547.63,395.30 550.00,395.00 C552.37,394.70 554.72,394.48 557.10,394.60 C559.48,394.72 561.92,395.40 564.30,395.70 C566.68,396.00 569.02,396.28 571.40,396.40 C573.78,396.52 573.83,396.53 578.60,396.40 C583.37,396.27 595.10,395.70 600.00,395.60 C604.90,395.50 605.83,395.73 608.00,395.80 C610.17,395.87 611.50,395.95 613.00,396.00 C614.50,396.05 615.67,396.10 617.00,396.10 C618.33,396.10 619.17,396.02 621.00,396.00 C622.83,395.98 624.00,396.00 628.00,396.00 C632.00,396.00 639.67,396.02 645.00,396.00 C650.33,395.98 656.17,395.92 660.00,395.90 C663.83,395.88 665.33,395.90 668.00,395.90 C670.67,395.90 673.58,395.90 676.00,395.90 C678.42,395.90 681.42,395.90 682.50,395.90" fill="none" stroke="#b23438" stroke-width="3.2" stroke-linejoin="round" stroke-linecap="butt" clip-path="url(#clipD)"/>
<line x1="428.30" y1="395.90" x2="682.50" y2="395.90" stroke="#000" stroke-width="3" stroke-dasharray="12 12.6"/>
<line x1="541.50" y1="327.20" x2="589.50" y2="327.20" stroke="#5070a8" stroke-width="3.3"/>
<text transform="translate(594.01,333.00) scale(0.9429,1)" font-size="18.6" fill="#000" stroke="#000" stroke-width="0.3">R1-Y1</text>
<line x1="541.50" y1="349.60" x2="589.50" y2="349.60" stroke="#668ac4" stroke-width="3.3"/>
<text transform="translate(593.95,355.40) scale(0.9807,1)" font-size="18.6" fill="#000" stroke="#000" stroke-width="0.3">R10-Y10</text>
<line x1="541.50" y1="372.00" x2="589.50" y2="372.00" stroke="#bbd7e4" stroke-width="3.3"/>
<text transform="translate(593.95,377.80) scale(0.9807,1)" font-size="18.6" fill="#000" stroke="#000" stroke-width="0.3">R20-Y20</text>
<line x1="541.50" y1="416.70" x2="589.50" y2="416.70" stroke="#c9545c" stroke-width="3.3"/>
<text transform="translate(593.95,422.50) scale(0.9807,1)" font-size="18.6" fill="#000" stroke="#000" stroke-width="0.3">R40-Y40</text>
<line x1="541.50" y1="439.00" x2="589.50" y2="439.00" stroke="#b23438" stroke-width="3.3"/>
<text transform="translate(593.95,444.80) scale(0.9807,1)" font-size="18.6" fill="#000" stroke="#000" stroke-width="0.3">R60-Y60</text>
<rect x="428.30" y="302.40" width="254.20" height="187.00" fill="none" stroke="#262626" stroke-width="2.4"/>
<line x1="428.30" y1="489.40" x2="428.30" y2="486.00" stroke="#262626" stroke-width="1.8"/>
<line x1="428.30" y1="302.40" x2="428.30" y2="305.80" stroke="#262626" stroke-width="1.8"/>
<text transform="translate(422.84,514.40) scale(1.0000,1)" font-size="19.9" fill="#141414" stroke="#141414" stroke-width="0.15">0</text>
<line x1="555.40" y1="489.40" x2="555.40" y2="486.00" stroke="#262626" stroke-width="1.8"/>
<line x1="555.40" y1="302.40" x2="555.40" y2="305.80" stroke="#262626" stroke-width="1.8"/>
<text transform="translate(543.90,514.40) scale(1.0443,1)" font-size="19.9" fill="#141414" stroke="#141414" stroke-width="0.15">10</text>
<line x1="682.50" y1="489.40" x2="682.50" y2="486.00" stroke="#262626" stroke-width="1.8"/>
<line x1="682.50" y1="302.40" x2="682.50" y2="305.80" stroke="#262626" stroke-width="1.8"/>
<text transform="translate(670.90,514.40) scale(1.0494,1)" font-size="19.9" fill="#141414" stroke="#141414" stroke-width="0.15">20</text>
<line x1="428.30" y1="458.23" x2="431.70" y2="458.23" stroke="#262626" stroke-width="1.8"/>
<line x1="682.50" y1="458.23" x2="679.10" y2="458.23" stroke="#262626" stroke-width="1.8"/>
<text transform="translate(402.09,465.03) scale(1.0157,1)" font-size="19.9" fill="#141414" stroke="#141414" stroke-width="0.15">-1</text>
<line x1="428.30" y1="395.90" x2="431.70" y2="395.90" stroke="#262626" stroke-width="1.8"/>
<line x1="682.50" y1="395.90" x2="679.10" y2="395.90" stroke="#262626" stroke-width="1.8"/>
<text transform="translate(409.37,402.70) scale(1.0000,1)" font-size="19.9" fill="#141414" stroke="#141414" stroke-width="0.15">0</text>
<line x1="428.30" y1="333.57" x2="431.70" y2="333.57" stroke="#262626" stroke-width="1.8"/>
<line x1="682.50" y1="333.57" x2="679.10" y2="333.57" stroke="#262626" stroke-width="1.8"/>
<text transform="translate(409.44,340.37) scale(0.9565,1)" font-size="19.9" fill="#141414" stroke="#141414" stroke-width="0.15">1</text>
<text transform="translate(533.10,540.40) scale(1.0617,1)" font-size="21.8" fill="#141414" stroke="#141414" stroke-width="0"><tspan font-style="italic">r</tspan> (Å)</text>
<text transform="translate(391.70,392.70) rotate(-90) translate(-79.77,0) scale(1.1167,1)" font-size="21.8" fill="#141414" ><tspan font-style="italic">W(r)</tspan> (kcal/mol)</text>
<text transform="translate(535.85,296.70) scale(1.0514,1)" font-size="22.2" font-weight="bold" fill="#000" stroke="#000" stroke-width="0.5">R-Y</text>
<text transform="translate(349.64,292.60) scale(0.95,1)" font-size="26.4" font-weight="bold" fill="#000" stroke="#000" stroke-width="0.45">D</text>
<path d="M105.90,575.50 C106.00,579.58 106.27,591.93 106.50,600.00 C106.73,608.07 107.00,616.40 107.30,623.90 C107.60,631.40 107.98,638.88 108.30,645.00 C108.62,651.12 109.00,656.07 109.20,660.60 C109.40,665.13 109.20,668.22 109.50,672.20 C109.80,676.18 110.33,680.82 111.00,684.50 C111.67,688.18 112.48,691.65 113.50,694.30 C114.52,696.95 115.98,698.37 117.10,700.40 C118.22,702.43 119.28,704.07 120.20,706.50 C121.12,708.93 121.68,711.53 122.60,715.00 C123.52,718.47 124.78,723.22 125.70,727.30 C126.62,731.38 127.18,735.83 128.10,739.50 C129.02,743.17 130.30,747.80 131.20,749.30 C132.10,750.80 132.68,749.12 133.50,748.50 C134.32,747.88 134.75,747.72 136.10,745.60 C137.45,743.48 139.87,739.07 141.60,735.80 C143.33,732.53 144.87,728.33 146.50,726.00 C148.13,723.67 149.98,722.70 151.40,721.80 C152.82,720.90 153.37,721.52 155.00,720.60 C156.63,719.68 158.75,717.83 161.20,716.30 C163.65,714.77 167.40,713.03 169.70,711.40 C172.00,709.77 173.28,707.93 175.00,706.50 C176.72,705.07 177.93,704.22 180.00,702.80 C182.07,701.38 184.78,699.22 187.40,698.00 C190.02,696.78 192.60,696.92 195.70,695.50 C198.80,694.08 202.55,691.28 206.00,689.50 C209.45,687.72 212.93,686.42 216.40,684.80 C219.87,683.18 223.35,681.12 226.80,679.80 C230.25,678.48 233.65,677.65 237.10,676.90 C240.55,676.15 244.05,675.92 247.50,675.30 C250.95,674.68 254.35,673.80 257.80,673.20 C261.25,672.60 264.75,672.28 268.20,671.70 C271.65,671.12 275.05,670.28 278.50,669.70 C281.95,669.12 285.45,668.65 288.90,668.20 C292.35,667.75 294.22,667.27 299.20,667.00 C304.18,666.73 315.53,666.67 318.80,666.60" fill="none" stroke="#5070a8" stroke-width="3.2" stroke-linejoin="round" stroke-linecap="butt" clip-path="url(#clipE)"/>
<path d="M107.90,575.50 C108.08,579.48 108.53,591.33 109.00,599.40 C109.47,607.47 110.07,617.78 110.70,623.90 C111.33,630.02 112.08,632.92 112.80,636.10 C113.52,639.28 114.28,640.97 115.00,643.00 C115.72,645.03 116.40,646.30 117.10,648.30 C117.80,650.30 118.68,652.95 119.20,655.00 C119.72,657.05 119.83,658.13 120.20,660.60 C120.57,663.07 120.78,665.82 121.40,669.80 C122.02,673.78 123.18,680.02 123.90,684.50 C124.62,688.98 125.00,692.63 125.70,696.70 C126.40,700.77 127.38,705.93 128.10,708.90 C128.82,711.87 129.28,713.27 130.00,714.50 C130.72,715.73 131.57,716.13 132.40,716.30 C133.23,716.47 133.88,716.12 135.00,715.50 C136.12,714.88 137.18,714.72 139.10,712.60 C141.02,710.48 144.45,705.85 146.50,702.80 C148.55,699.75 149.57,696.33 151.40,694.30 C153.23,692.27 155.47,691.73 157.50,690.60 C159.53,689.47 161.37,688.22 163.60,687.50 C165.83,686.78 168.17,686.80 170.90,686.30 C173.63,685.80 177.25,684.83 180.00,684.50 C182.75,684.17 183.75,684.58 187.40,684.30 C191.05,684.02 197.07,683.55 201.90,682.80 C206.73,682.05 212.25,680.72 216.40,679.80 C220.55,678.88 223.35,678.05 226.80,677.30 C230.25,676.55 233.65,675.82 237.10,675.30 C240.55,674.78 244.05,674.55 247.50,674.20 C250.95,673.85 254.35,673.62 257.80,673.20 C261.25,672.78 264.75,672.18 268.20,671.70 C271.65,671.22 273.33,670.92 278.50,670.30 C283.67,669.68 292.48,668.55 299.20,668.00 C305.92,667.45 315.53,667.17 318.80,667.00" fill="none" stroke="#b23438" stroke-width="3.2" stroke-linejoin="round" stroke-linecap="butt" clip-path="url(#clipE)"/>
<line x1="64.60" y1="669.25" x2="318.90" y2="669.25" stroke="#000" stroke-width="3" stroke-dasharray="12 12.6"/>
<line x1="171.70" y1="600.30" x2="219.70" y2="600.30" stroke="#5070a8" stroke-width="3.3"/>
<text transform="translate(223.40,606.10) scale(1.0173,1)" font-size="18.6" fill="#000" stroke="#000" stroke-width="0.3">R10-w10</text>
<line x1="171.70" y1="622.70" x2="219.70" y2="622.70" stroke="#b23438" stroke-width="3.3"/>
<text transform="translate(223.42,628.50) scale(1.0016,1)" font-size="18.6" fill="#000" stroke="#000" stroke-width="0.3">R40-W40</text>
<rect x="64.60" y="575.50" width="254.30" height="187.50" fill="none" stroke="#262626" stroke-width="2.4"/>
<line x1="64.60" y1="763.00" x2="64.60" y2="759.60" stroke="#262626" stroke-width="1.8"/>
<line x1="64.60" y1="575.50" x2="64.60" y2="578.90" stroke="#262626" stroke-width="1.8"/>
<text transform="translate(59.14,788.00) scale(1.0000,1)" font-size="19.9" fill="#141414" stroke="#141414" stroke-width="0.15">0</text>
<line x1="191.75" y1="763.00" x2="191.75" y2="759.60" stroke="#262626" stroke-width="1.8"/>
<line x1="191.75" y1="575.50" x2="191.75" y2="578.90" stroke="#262626" stroke-width="1.8"/>
<text transform="translate(180.25,788.00) scale(1.0443,1)" font-size="19.9" fill="#141414" stroke="#141414" stroke-width="0.15">10</text>
<line x1="318.90" y1="763.00" x2="318.90" y2="759.60" stroke="#262626" stroke-width="1.8"/>
<line x1="318.90" y1="575.50" x2="318.90" y2="578.90" stroke="#262626" stroke-width="1.8"/>
<text transform="translate(307.30,788.00) scale(1.0494,1)" font-size="19.9" fill="#141414" stroke="#141414" stroke-width="0.15">20</text>
<line x1="64.60" y1="731.75" x2="68.00" y2="731.75" stroke="#262626" stroke-width="1.8"/>
<line x1="318.90" y1="731.75" x2="315.50" y2="731.75" stroke="#262626" stroke-width="1.8"/>
<text transform="translate(38.39,738.55) scale(1.0157,1)" font-size="19.9" fill="#141414" stroke="#141414" stroke-width="0.15">-1</text>
<line x1="64.60" y1="669.25" x2="68.00" y2="669.25" stroke="#262626" stroke-width="1.8"/>
<line x1="318.90" y1="669.25" x2="315.50" y2="669.25" stroke="#262626" stroke-width="1.8"/>
<text transform="translate(45.67,676.05) scale(1.0000,1)" font-size="19.9" fill="#141414" stroke="#141414" stroke-width="0.15">0</text>
<line x1="64.60" y1="606.75" x2="68.00" y2="606.75" stroke="#262626" stroke-width="1.8"/>
<line x1="318.90" y1="606.75" x2="315.50" y2="606.75" stroke="#262626" stroke-width="1.8"/>
<text transform="translate(45.74,613.55) scale(0.9565,1)" font-size="19.9" fill="#141414" stroke="#141414" stroke-width="0.15">1</text>
<text transform="translate(169.45,814.00) scale(1.0617,1)" font-size="21.8" fill="#141414" stroke="#141414" stroke-width="0"><tspan font-style="italic">r</tspan> (Å)</text>
<text transform="translate(28.00,666.05) rotate(-90) translate(-79.77,0) scale(1.1167,1)" font-size="21.8" fill="#141414" ><tspan font-style="italic">W(r)</tspan> (kcal/mol)</text>
<text transform="translate(165.05,569.80) scale(1.0886,1)" font-size="22.2" font-weight="bold" fill="#000" stroke="#000" stroke-width="0.5">W-W</text>
<text transform="translate(1.79,564.80) scale(0.92,1)" font-size="26.4" font-weight="bold" fill="#000" stroke="#000" stroke-width="0.45">E</text>
<path d="M471.50,575.50 C471.58,581.25 471.82,599.25 472.00,610.00 C472.18,620.75 472.37,630.83 472.60,640.00 C472.83,649.17 473.15,656.30 473.40,665.00 C473.65,673.70 473.75,682.98 474.10,692.20 C474.45,701.42 474.98,712.10 475.50,720.30 C476.02,728.50 476.50,734.95 477.20,741.40 C477.90,747.85 478.90,756.57 479.70,759.00 C480.50,761.43 481.18,757.75 482.00,756.00 C482.82,754.25 483.23,752.57 484.60,748.50 C485.97,744.43 488.08,737.47 490.20,731.60 C492.32,725.73 495.30,718.70 497.30,713.30 C499.30,707.90 500.57,703.18 502.20,699.20 C503.83,695.22 505.80,691.93 507.10,689.40 C508.40,686.87 508.95,685.42 510.00,684.00 C511.05,682.58 512.40,681.60 513.40,680.90 C514.40,680.20 515.05,680.03 516.00,679.80 C516.95,679.57 517.42,679.32 519.10,679.50 C520.78,679.68 524.00,680.55 526.10,680.90 C528.20,681.25 530.22,681.17 531.70,681.60 C533.18,682.03 533.77,683.05 535.00,683.50 C536.23,683.95 537.77,684.30 539.10,684.30 C540.43,684.30 541.47,683.88 543.00,683.50 C544.53,683.12 545.13,682.70 548.30,682.00 C551.47,681.30 557.43,679.98 562.00,679.30 C566.57,678.62 571.13,678.60 575.70,677.90 C580.27,677.20 584.83,675.93 589.40,675.10 C593.97,674.27 597.77,673.47 603.10,672.90 C608.43,672.33 615.30,672.08 621.40,671.70 C627.50,671.32 633.60,670.98 639.70,670.60 C645.80,670.22 650.02,669.78 658.00,669.40 C665.98,669.02 682.67,668.48 687.60,668.30" fill="none" stroke="#5070a8" stroke-width="3.2" stroke-linejoin="round" stroke-linecap="butt" clip-path="url(#clipF)"/>
<path d="M472.60,575.50 C472.72,581.25 473.05,597.58 473.30,610.00 C473.55,622.42 473.78,640.17 474.10,650.00 C474.42,659.83 474.85,661.97 475.20,669.00 C475.55,676.03 475.80,685.52 476.20,692.20 C476.60,698.88 477.17,704.97 477.60,709.10 C478.03,713.23 478.33,715.02 478.80,717.00 C479.27,718.98 479.87,720.67 480.40,721.00 C480.93,721.33 481.42,720.28 482.00,719.00 C482.58,717.72 483.12,715.90 483.90,713.30 C484.68,710.70 485.65,706.22 486.70,703.40 C487.75,700.58 489.15,698.13 490.20,696.40 C491.25,694.67 492.05,694.17 493.00,693.00 C493.95,691.83 494.60,691.42 495.90,689.40 C497.20,687.38 499.28,683.95 500.80,680.90 C502.32,677.85 503.37,674.13 505.00,671.10 C506.63,668.07 509.10,664.88 510.60,662.70 C512.10,660.52 512.93,659.07 514.00,658.00 C515.07,656.93 515.92,656.42 517.00,656.30 C518.08,656.18 519.22,656.77 520.50,657.30 C521.78,657.83 523.12,658.58 524.70,659.50 C526.28,660.42 528.28,661.68 530.00,662.80 C531.72,663.92 533.33,665.12 535.00,666.20 C536.67,667.28 538.50,668.53 540.00,669.30 C541.50,670.07 541.10,670.67 544.00,670.80 C546.90,670.93 552.12,669.95 557.40,670.10 C562.68,670.25 570.37,671.50 575.70,671.70 C581.03,671.90 584.83,671.68 589.40,671.30 C593.97,670.92 597.77,669.72 603.10,669.40 C608.43,669.08 607.32,669.58 621.40,669.40 C635.48,669.22 676.57,668.48 687.60,668.30" fill="none" stroke="#b23438" stroke-width="3.2" stroke-linejoin="round" stroke-linecap="butt" clip-path="url(#clipF)"/>
<line x1="433.60" y1="669.25" x2="687.60" y2="669.25" stroke="#000" stroke-width="3" stroke-dasharray="12 12.6"/>
<line x1="540.40" y1="600.30" x2="588.40" y2="600.30" stroke="#5070a8" stroke-width="3.3"/>
<text transform="translate(592.12,606.10) scale(1.0016,1)" font-size="18.6" fill="#000" stroke="#000" stroke-width="0.3">R10-W10</text>
<line x1="540.40" y1="622.70" x2="588.40" y2="622.70" stroke="#b23438" stroke-width="3.3"/>
<text transform="translate(592.12,628.50) scale(1.0016,1)" font-size="18.6" fill="#000" stroke="#000" stroke-width="0.3">R40-W40</text>
<rect x="433.60" y="575.50" width="254.00" height="187.50" fill="none" stroke="#262626" stroke-width="2.4"/>
<line x1="433.60" y1="763.00" x2="433.60" y2="759.60" stroke="#262626" stroke-width="1.8"/>
<line x1="433.60" y1="575.50" x2="433.60" y2="578.90" stroke="#262626" stroke-width="1.8"/>
<text transform="translate(428.14,788.00) scale(1.0000,1)" font-size="19.9" fill="#141414" stroke="#141414" stroke-width="0.15">0</text>
<line x1="560.60" y1="763.00" x2="560.60" y2="759.60" stroke="#262626" stroke-width="1.8"/>
<line x1="560.60" y1="575.50" x2="560.60" y2="578.90" stroke="#262626" stroke-width="1.8"/>
<text transform="translate(549.10,788.00) scale(1.0443,1)" font-size="19.9" fill="#141414" stroke="#141414" stroke-width="0.15">10</text>
<line x1="687.60" y1="763.00" x2="687.60" y2="759.60" stroke="#262626" stroke-width="1.8"/>
<line x1="687.60" y1="575.50" x2="687.60" y2="578.90" stroke="#262626" stroke-width="1.8"/>
<text transform="translate(676.00,788.00) scale(1.0494,1)" font-size="19.9" fill="#141414" stroke="#141414" stroke-width="0.15">20</text>
<line x1="433.60" y1="731.75" x2="437.00" y2="731.75" stroke="#262626" stroke-width="1.8"/>
<line x1="687.60" y1="731.75" x2="684.20" y2="731.75" stroke="#262626" stroke-width="1.8"/>
<text transform="translate(407.39,738.55) scale(1.0157,1)" font-size="19.9" fill="#141414" stroke="#141414" stroke-width="0.15">-1</text>
<line x1="433.60" y1="669.25" x2="437.00" y2="669.25" stroke="#262626" stroke-width="1.8"/>
<line x1="687.60" y1="669.25" x2="684.20" y2="669.25" stroke="#262626" stroke-width="1.8"/>
<text transform="translate(414.67,676.05) scale(1.0000,1)" font-size="19.9" fill="#141414" stroke="#141414" stroke-width="0.15">0</text>
<line x1="433.60" y1="606.75" x2="437.00" y2="606.75" stroke="#262626" stroke-width="1.8"/>
<line x1="687.60" y1="606.75" x2="684.20" y2="606.75" stroke="#262626" stroke-width="1.8"/>
<text transform="translate(414.74,613.55) scale(0.9565,1)" font-size="19.9" fill="#141414" stroke="#141414" stroke-width="0.15">1</text>
<text transform="translate(538.30,814.00) scale(1.0617,1)" font-size="21.8" fill="#141414" stroke="#141414" stroke-width="0"><tspan font-style="italic">r</tspan> (Å)</text>
<text transform="translate(397.00,666.05) rotate(-90) translate(-79.77,0) scale(1.1167,1)" font-size="21.8" fill="#141414" ><tspan font-style="italic">W(r)</tspan> (kcal/mol)</text>
<text transform="translate(537.06,569.80) scale(1.0581,1)" font-size="22.2" font-weight="bold" fill="#000" stroke="#000" stroke-width="0.5">R-W</text>
<text transform="translate(346.71,565.00) scale(0.91,1)" font-size="26.4" font-weight="bold" fill="#000" stroke="#000" stroke-width="0.45">F</text>
</svg>
</body></html>
